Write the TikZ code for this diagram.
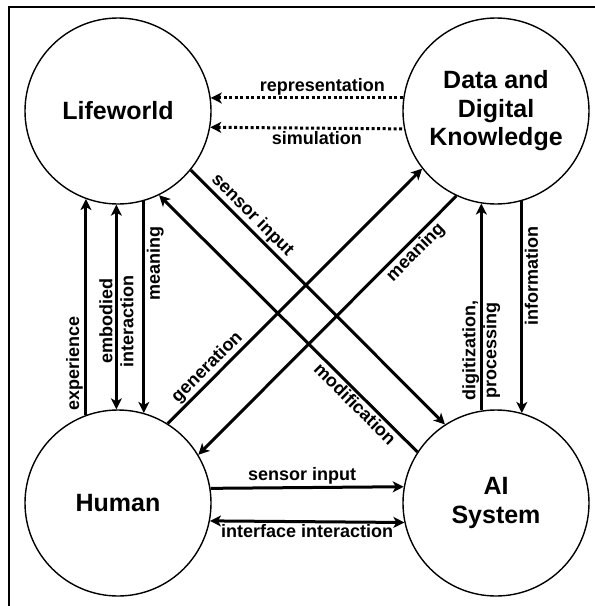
\documentclass[tikz,border=0pt]{standalone}
\usepackage{fontspec}
\setmainfont{Liberation Sans}
\usetikzlibrary{arrows.meta}
\tikzset{>={Stealth[length=11pt,width=11pt,inset=3pt]}}
\tikzset{sphere/.style={circle,draw,line width=1.4pt,minimum size=186pt,inner sep=0pt,align=center,font=\bfseries\fontsize{25}{28.5}\selectfont}}
\tikzset{lbl/.style={font=\bfseries\fontsize{18}{21}\selectfont,inner sep=1.5pt}}
\tikzset{dots/.style={dash pattern=on 3pt off 2.5pt}}

\begin{document}
\begin{tikzpicture}[x=1pt,y=-1pt]
\useasboundingbox (0,0) rectangle (595,606);
\clip (0,0) rectangle (595,606);
\draw[line width=2pt] (9,7) rectangle (610,620);
\node[sphere] (life) at (118,111) {Lifeworld};
\node[sphere] (data) at (496,111) {Data and\\Digital\\Knowledge};
\node[sphere] (human) at (118,503) {Human};
\node[sphere] (ai) at (496,503) {AI\\System};
\begin{scope}[line width = 3pt]
\draw[<-,dots] (life.8) to node[lbl,pos=0.58,above] {representation} (data.172);
\draw[<-,dots] (life.-10.5) to node[lbl,pos=0.55,below] {simulation} (data.-169.5);
\draw[->] (human.110.8) to node[lbl,sloped,pos=0.24,above] {experience} (life.-110.8);
\draw[<->] (human.91) to node[lbl,sloped,pos=0.43,align=center] {embodied\\interaction} (life.-91);
\draw[<-] (human.74.4) to node[lbl,sloped,pos=0.707,below] {meaning} (life.-74.4);
\draw[->] (ai.99.9) to node[lbl,sloped,pos=0.29,align=center] {digitization,\\processing} (data.-99.9);
\draw[<-] (ai.74.4) to node[lbl,sloped,pos=0.646,below] {information} (data.-74.4);
\draw[->] (human.9.9) to node[lbl,pos=0.474,above] {sensor input} (ai.170.1);
\draw[<->] (human.-11.8) to node[lbl,pos=0.5,below] {interface interaction} (ai.-168.2);
\draw[->] (life.-39.3) to node[lbl,sloped,pos=0.21,above] {sensor input} (ai.123.2);
\draw[<-] (life.-64.1) to node[lbl,sloped,pos=0.786,below] {modification} (ai.147.7);
\draw[->] (human.58.2) to node[lbl,sloped,pos=0.188,above] {generation} (data.-142);
\draw[<-] (human.31.4) to node[lbl,sloped,pos=0.812,below] {meaning} (data.-115);
\end{scope}
\end{tikzpicture}
\end{document}
